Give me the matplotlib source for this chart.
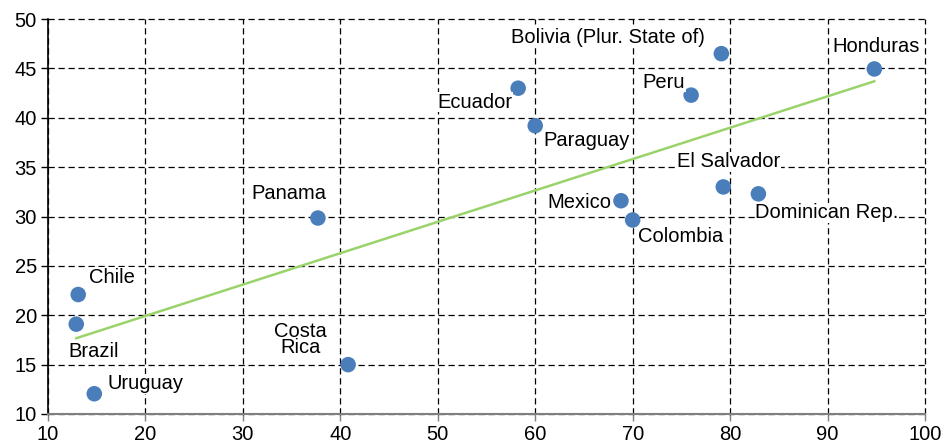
import numpy as np
import matplotlib.pyplot as plt

plt.rcParams['font.family'] = ['Liberation Sans', 'DejaVu Sans']

countries = ["Brazil", "Chile", "Uruguay", "Costa\nRica", "Panama", "Ecuador",
             "Paraguay", "Mexico", "Colombia", "El Salvador", "Dominican Rep.",
             "Peru", "Bolivia (Plur. State of)", "Honduras"]
x_vals = [12.9, 13.1, 14.75, 40.8, 37.7, 58.25, 60.0, 68.8, 70.0, 79.3, 82.9, 76.0, 79.1, 94.8]
y_vals = [19.1, 22.1, 12.05, 15.0, 29.85, 43.0, 39.2, 31.6, 29.65, 33.0, 32.3, 42.3, 46.5, 44.95]

x_ticks = [10, 20, 30, 40, 50, 60, 70, 80, 90, 100]
y_ticks = [10, 15, 20, 25, 30, 35, 40, 45, 50]

# label placement: (dx, dy) in pixels, horizontal alignment
label_pos = {
    "Brazil": (17, -27, "center"),
    "Chile": (11, 17, "left"),
    "Uruguay": (13, 10, "left"),
    "Costa\nRica": (-21, 25, "right"),
    "Panama": (-29, 25, "center"),
    "Ecuador": (-6, -14, "right"),
    "Paraguay": (8, -15, "left"),
    "Mexico": (-10, -2, "right"),
    "Colombia": (5, -17, "left"),
    "El Salvador": (5, 25, "center"),
    "Dominican Rep.": (-3, -19, "left"),
    "Peru": (-6, 13, "right"),
    "Bolivia (Plur. State of)": (-16, 16, "right"),
    "Honduras": (2, 22, "center"),
}

fig = plt.figure(figsize=(9.41, 4.44), dpi=100)
ax = fig.add_axes([0.051, 0.0676, 0.932, 0.8894])

ax.set_xlim(10, 100)
ax.set_ylim(10, 50)
ax.set_xticks(x_ticks)
ax.set_yticks(y_ticks)

ax.grid(True, color="black", linestyle=(0, (5, 3)), linewidth=0.9)
for gl in ax.get_xgridlines() + ax.get_ygridlines():
    gl.set_clip_on(False)
ax.set_axisbelow(True)

for side in ["top", "right"]:
    ax.spines[side].set_visible(False)
ax.spines["left"].set_color("black")
ax.spines["left"].set_linewidth(1.2)
ax.spines["bottom"].set_color("#7f7f7f")
ax.spines["bottom"].set_linewidth(1.5)
ax.spines["left"].set_zorder(3)
ax.spines["bottom"].set_zorder(3)
ax.tick_params(axis="both", direction="out", length=5, width=1, labelsize=14.5,
               colors="black", pad=3)
ax.tick_params(axis="x", color="#7f7f7f", labelcolor="black")

# linear trend across the data range
coef = np.polyfit(x_vals, y_vals, 1)
xl = np.array([min(x_vals), max(x_vals)])
ax.plot(xl, np.polyval(coef, xl), color="#9bd36b", linewidth=1.8, zorder=2)

ax.scatter(x_vals, y_vals, s=125, color="#4a7ebb", edgecolors="none", zorder=4, clip_on=False)

for name, xv, yv in zip(countries, x_vals, y_vals):
    dx, dy, ha = label_pos[name]
    ax.annotate(name, (xv, yv), xytext=(dx, dy), textcoords="offset pixels",
                ha=ha, va="center", fontsize=14.5, multialignment="center",
                linespacing=0.85,
                bbox=dict(facecolor="white", edgecolor="none", pad=0.5), zorder=5)

fig.savefig("out.png", dpi=100)
